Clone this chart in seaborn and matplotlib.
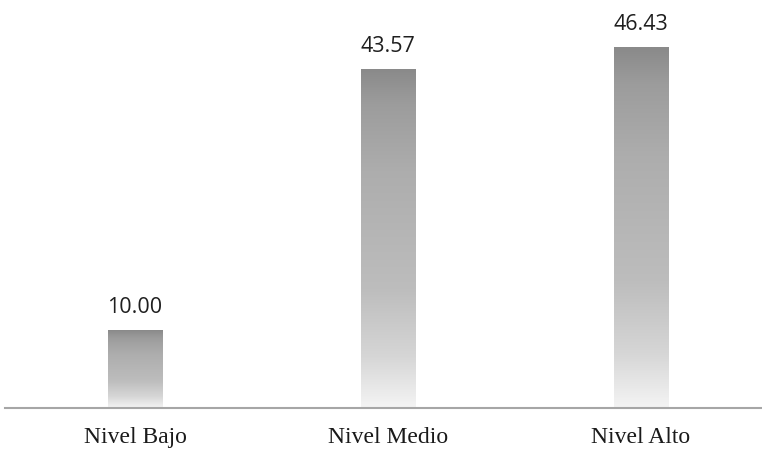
import numpy as np
import pandas as pd
import matplotlib
matplotlib.use("Agg")
import matplotlib.pyplot as plt
import seaborn as sns
from matplotlib.colors import LinearSegmentedColormap

categories = ["Nivel Bajo", "Nivel Medio", "Nivel Alto"]
values = [10.00, 43.57, 46.43]

df = pd.DataFrame({"nivel": categories, "porcentaje": values})

sns.set_theme(style="white")
fig = plt.figure(figsize=(7.62, 4.49), dpi=100)
ax = fig.add_axes([5 / 762, 41 / 449, 757 / 762, 388.75 / 449])

sns.barplot(data=df, x="nivel", y="porcentaje", ax=ax, width=0.217,
            color="#b0b0b0", edgecolor="none", linewidth=0)

# vertical gray fade: dark at the top, near-white at the base
grad_cmap = LinearSegmentedColormap.from_list(
    "fade",
    [(0.0, "#f4f4f4"), (0.15, "#d6d6d6"), (0.35, "#bdbdbd"),
     (0.7, "#adadad"), (0.9, "#9c9c9c"), (1.0, "#8a8a8a")])
grad = np.linspace(0, 1, 256).reshape(-1, 1)

for patch, val in zip(ax.patches, values):
    x0 = patch.get_x()
    w = patch.get_width()
    h = patch.get_height()
    patch.set_facecolor("none")
    im = ax.imshow(grad, cmap=grad_cmap, aspect="auto", origin="lower",
                   extent=[x0, x0 + w, 0, h], zorder=2, interpolation="bilinear")
    im.set_clip_path(patch)
    ax.text(x0 + w / 2, h + 1.6, f"{val:.2f}", ha="center", va="bottom",
            fontsize=15.5, color="#1f1f1f", family="Open Sans")

ax.set_xlim(-0.514, 2.478)
ax.set_ylim(0, 50)
ax.set_xlabel("")
ax.set_ylabel("")
ax.set_yticks([])
ax.tick_params(axis="x", length=0, pad=14)
for lab in ax.get_xticklabels():
    lab.set_family("Liberation Serif")
    lab.set_fontsize(17)
    lab.set_color("#1a1a1a")

for side in ["top", "left", "right"]:
    ax.spines[side].set_visible(False)
ax.spines["bottom"].set_color("#a6a6a6")
ax.spines["bottom"].set_linewidth(1.5)

fig.savefig("out.png", dpi=100, facecolor="white")
